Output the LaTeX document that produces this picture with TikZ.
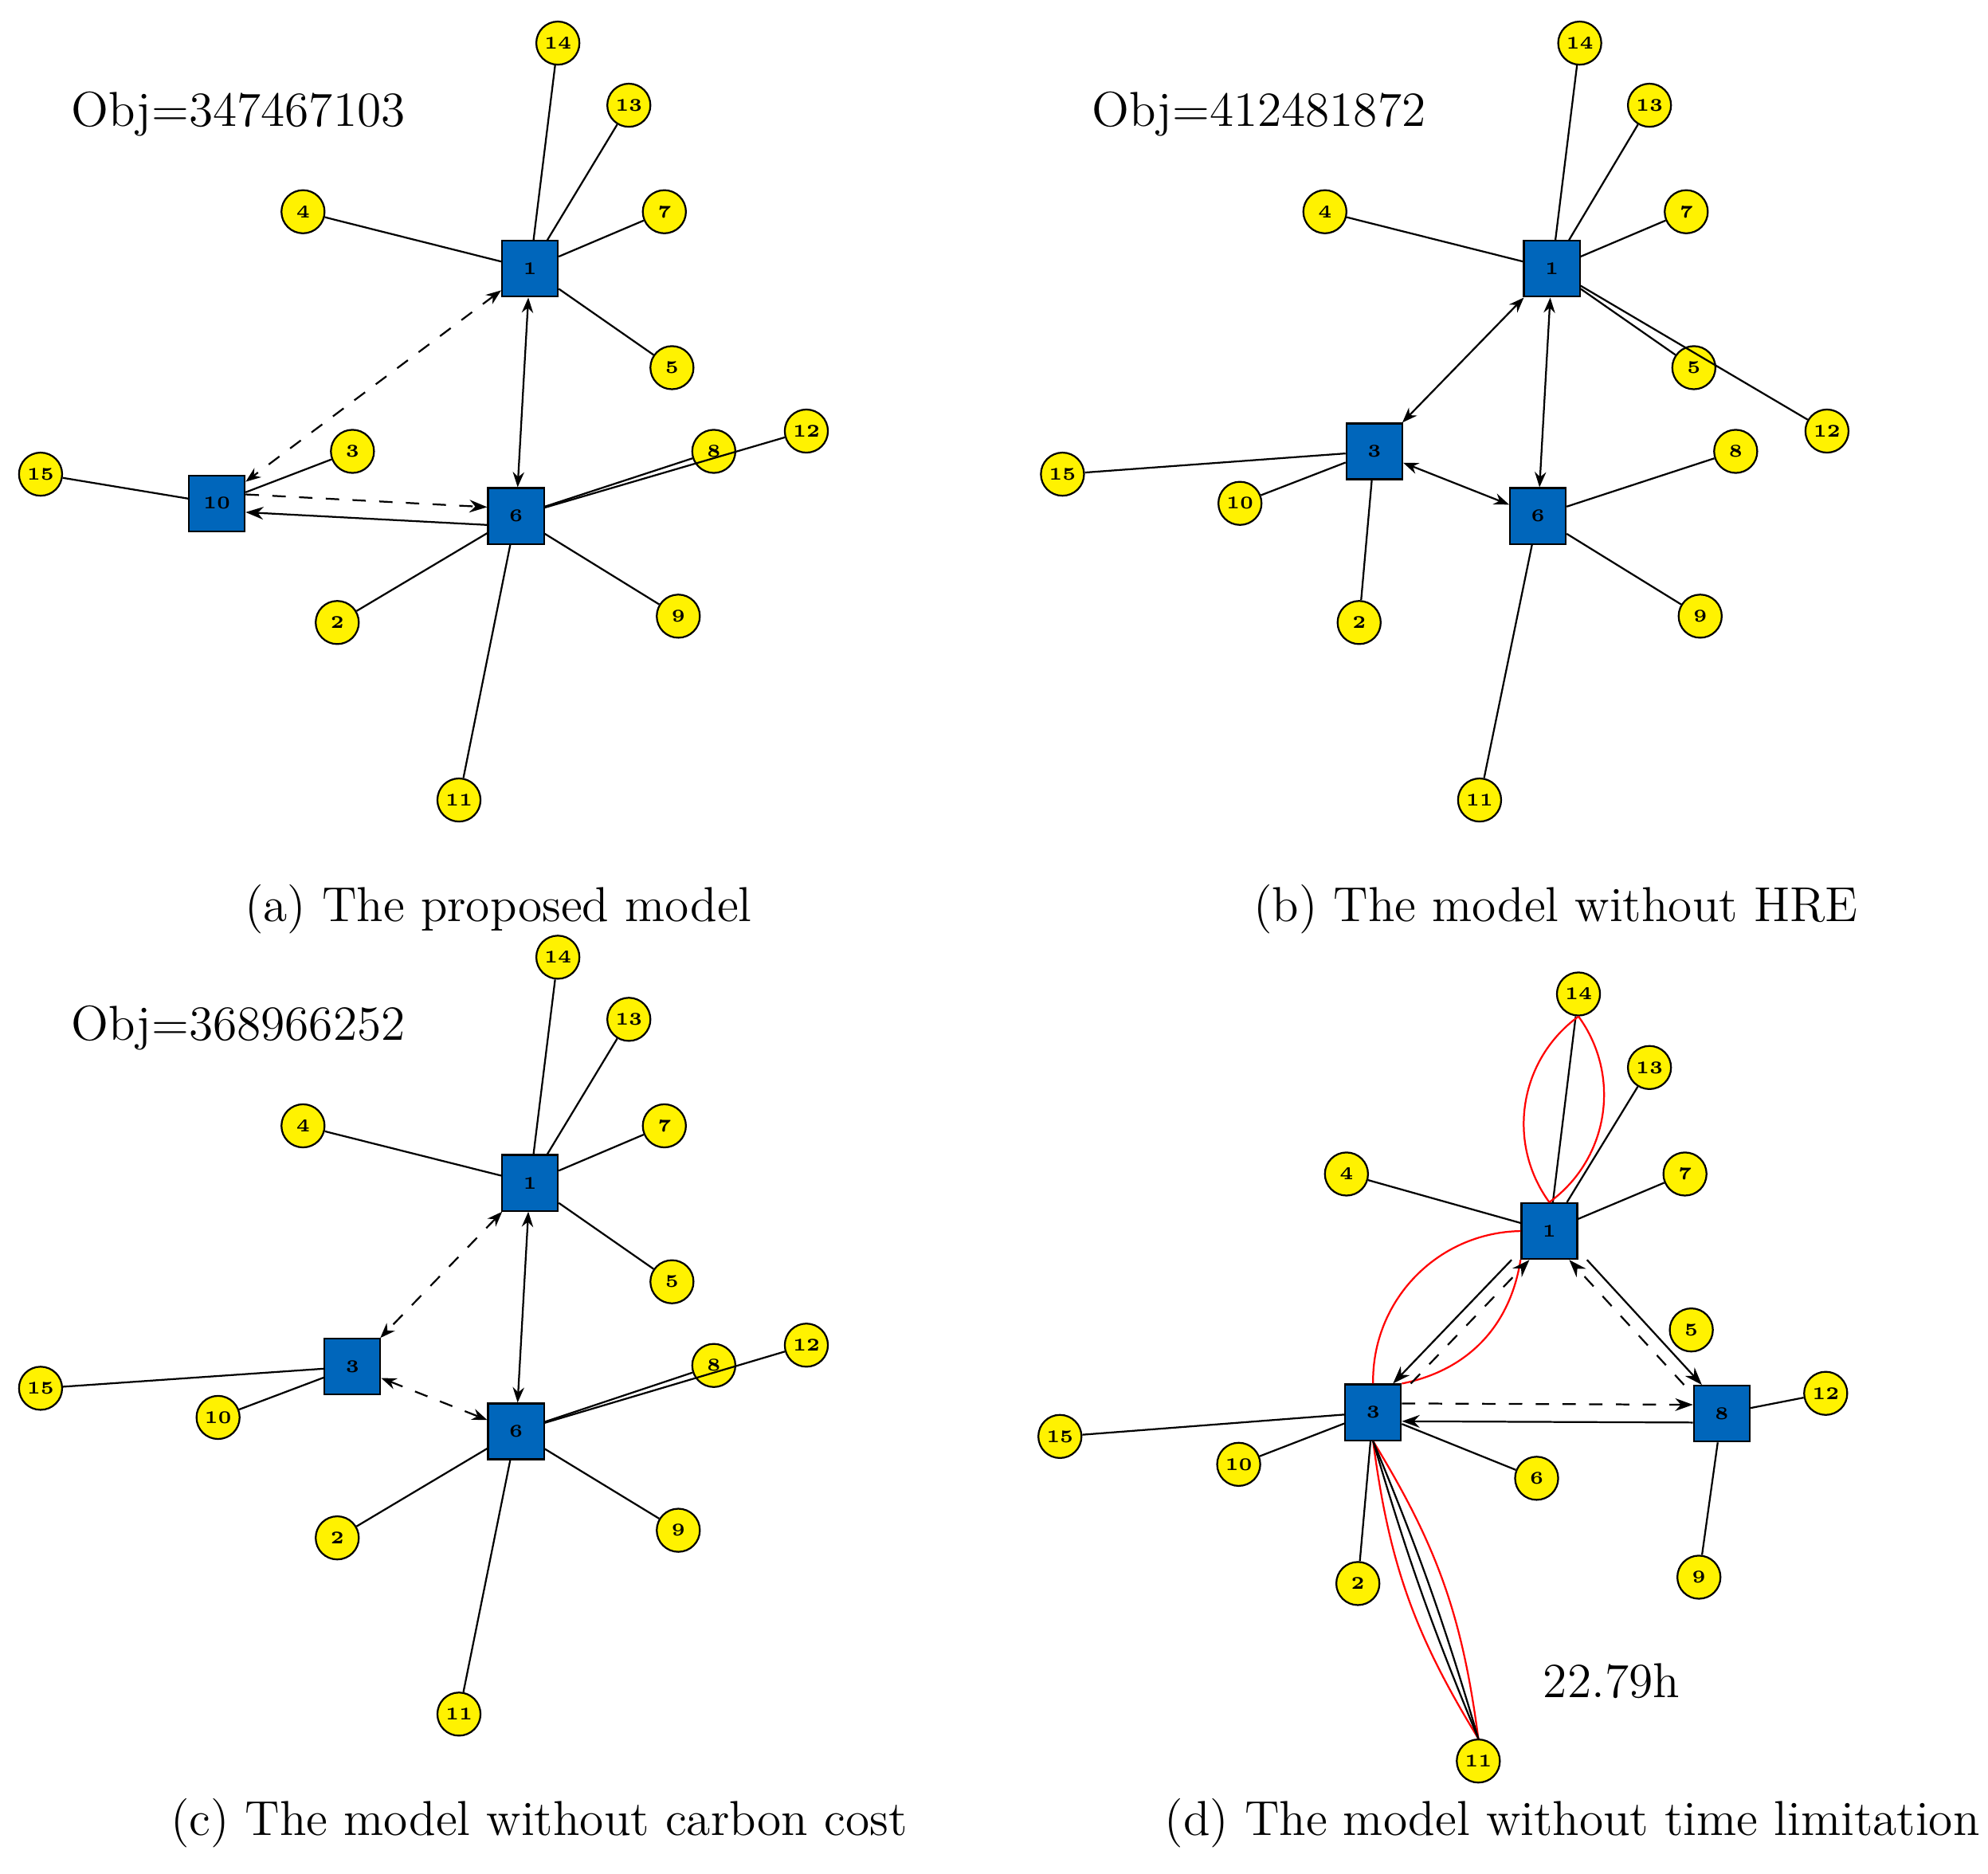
\documentclass[tikz,border=0pt]{standalone}
\usetikzlibrary{arrows.meta}
\tikzset{
  hub/.style={rectangle,draw,fill={rgb,255:red,0;green,102;blue,187},minimum size=0.44cm,inner sep=0pt,font=\fontsize{4}{4}\selectfont\bfseries},
  cust/.style={circle,draw,fill=yellow,minimum size=0.34cm,inner sep=0pt,font=\fontsize{4}{4}\selectfont\bfseries},
  tw/.style={{Stealth[length=1.2mm,width=0.9mm]}-{Stealth[length=1.2mm,width=0.9mm]}},
  ar/.style={-{Stealth[length=1.4mm,width=1mm]}},
  big/.style={font=\fontsize{11}{11}\selectfont},
}
\begin{document}
\begin{tikzpicture}[x=0.01cm,y=-0.01cm]
    \useasboundingbox (0,0) rectangle (1568,1478);

    % (a) The proposed model
    \node[big] at (188,90) {Obj=347467103};
    \node[hub] (a1) at (418,212) {1};
    \node[hub] (a6) at (407,407) {6};
    \node[hub] (a10) at (171,397) {10};
    \foreach \n/\x/\y in {14/440/34,13/496/83,7/524/167,4/239/167,5/530/290,3/278/356,15/32/374,8/563/356,12/636/340,9/535/486,2/266/491,11/362/631}
      \node[cust] (a\n) at (\x,\y) {\n};
    \foreach \n in {14,13,7,4,5} \draw (a1) -- (a\n);
    \foreach \n in {8,12,9,2,11} \draw (a6) -- (a\n);
    \draw (a10) -- (a3);
    \draw (a10) -- (a15);
    \draw[tw] (a1) -- (a6);
    \draw[tw,dashed] (a1) -- (a10);
    \draw[ar] ([yshift=-2pt]a6.west) -- ([yshift=-2pt]a10.east);
    \draw[ar,dashed] ([yshift=2pt]a10.east) -- ([yshift=2pt]a6.west);
    \node[big] at (393,717) {(a) The proposed model};

    % (b) The model without HRE
    \node[big] at (993,90) {Obj=412481872};
    \node[hub] (b1) at (1224,212) {1};
    \node[hub] (b6) at (1213,407) {6};
    \node[hub] (b3) at (1084,356) {3};
    \foreach \n/\x/\y in {14/1246/34,13/1301/83,7/1330/167,4/1045/167,5/1336/290,12/1441/340,8/1369/356,15/838/374,10/978/397,2/1072/491,9/1341/486,11/1167/631}
      \node[cust] (b\n) at (\x,\y) {\n};
    \foreach \n in {14,13,7,4,5,12} \draw (b1) -- (b\n);
    \foreach \n in {15,10,2} \draw (b3) -- (b\n);
    \foreach \n in {8,9,11} \draw (b6) -- (b\n);
    \draw[tw] (b1) -- (b3);
    \draw[tw] (b1) -- (b6);
    \draw[tw] (b3) -- (b6);
    \node[big] at (1227,717) {(b) The model without HRE};

    % (c) The model without carbon cost
    \node[big] at (188,811) {Obj=368966252};
    \node[hub] (c1) at (418,933) {1};
    \node[hub] (c6) at (407,1129) {6};
    \node[hub] (c3) at (278,1078) {3};
    \foreach \n/\x/\y in {14/440/755,13/496/804,7/524/888,4/239/888,5/530/1011,15/32/1095,10/172/1118,8/563/1077,12/636/1061,9/535/1207,2/266/1213,11/362/1352}
      \node[cust] (c\n) at (\x,\y) {\n};
    \foreach \n in {14,13,7,4,5} \draw (c1) -- (c\n);
    \foreach \n in {8,12,9,2,11} \draw (c6) -- (c\n);
    \draw (c3) -- (c15);
    \draw (c3) -- (c10);
    \draw[tw,dashed] (c1) -- (c3);
    \draw[tw] (c1) -- (c6);
    \draw[tw,dashed] (c3) -- (c6);
    \node[big] at (425,1438) {(c) The model without carbon cost};

    % (d) The model without time limitation
    \node[hub] (d1) at (1222,971) {1};
    \node[hub] (d3) at (1083,1114) {3};
    \node[hub] (d8) at (1358,1115) {8};
    \foreach \n/\x/\y in {14/1245/784,13/1301/842,7/1329/926,4/1062/926,5/1334/1049,12/1440/1099,15/836/1133,10/977/1155,6/1212/1166,2/1071/1249,9/1340/1244,11/1166/1389}
      \node[cust] (d\n) at (\x,\y) {\n};
    \foreach \n in {14,13,7,4} \draw (d1) -- (d\n);
    \foreach \n in {15,10,6,2} \draw (d3) -- (d\n);
    \foreach \n in {12,9} \draw (d8) -- (d\n);
    \draw[red] (d1.north) to[bend left=45] (d14.south);
    \draw[red] (d1.north) to[bend right=45] (d14.south);
    \draw[red] (d1.west) to[bend right=45] (d3.north);
    \draw[red] (d1.south west) to[bend left=35] (d3.north east);
    \draw[red] (d3.south) to[bend right=12] (d11.north);
    \draw[red] (d3.south) to[bend left=12] (d11.north);
    \draw (d3.south) to[bend right=3] (d11.north);
    \draw (d3.south) to[bend left=3] (d11.north);
    \draw[ar] ([xshift=-2pt]d1.south west) -- ([xshift=-2pt]d3.north east);
    \draw[ar,dashed] ([xshift=2pt]d3.north east) -- ([xshift=2pt]d1.south west);
    \draw[ar] ([xshift=2pt]d1.south east) -- ([xshift=2pt]d8.north west);
    \draw[ar,dashed] ([xshift=-2pt]d8.north west) -- ([xshift=-2pt]d1.south east);
    \draw[ar] ([yshift=-2pt]d8.west) -- ([yshift=-2pt]d3.east);
    \draw[ar,dashed] ([yshift=2pt]d3.east) -- ([yshift=2pt]d8.west);
    \node[big] at (1271,1326) {22.79h};
    \node[big] at (1240,1438) {(d) The model without time limitation};
\end{tikzpicture}
\end{document}
